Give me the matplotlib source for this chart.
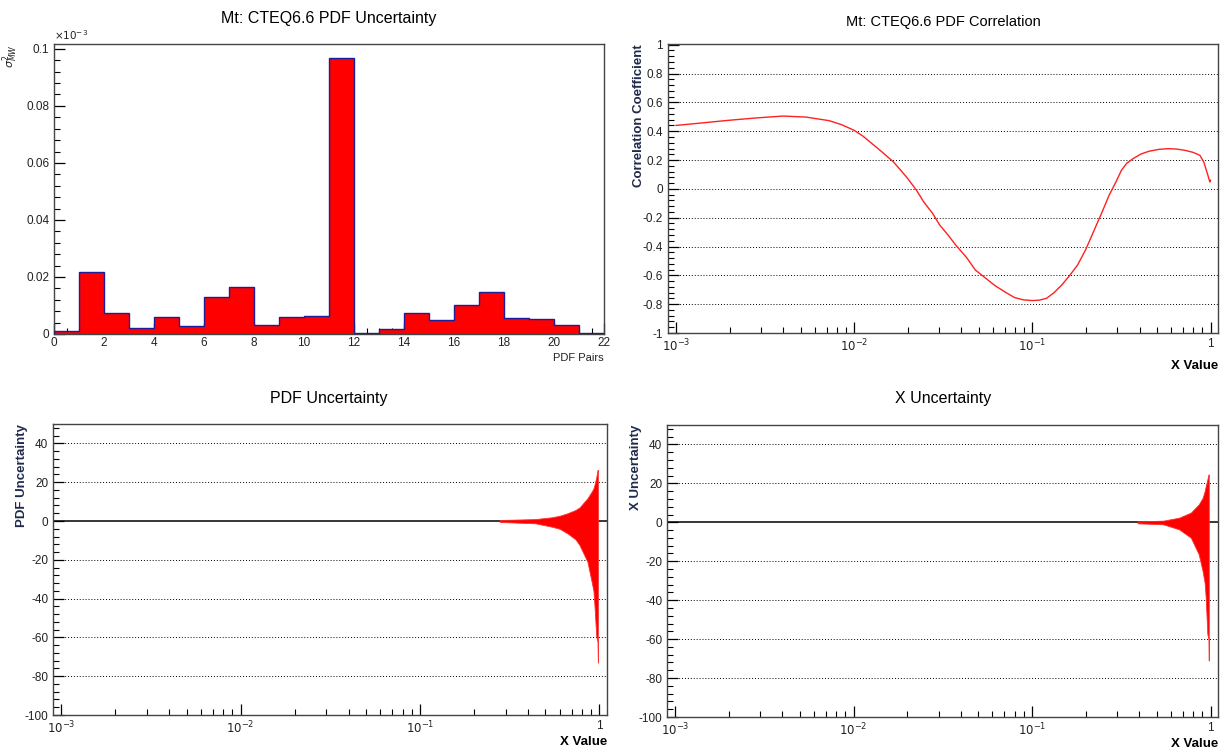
import matplotlib
matplotlib.use("Agg")
import matplotlib.pyplot as plt
import numpy as np
from matplotlib.ticker import (MultipleLocator, FixedLocator, FixedFormatter, FuncFormatter,
                               LogLocator, NullFormatter)

plt.rcParams['font.family'] = ['Liberation Sans', 'DejaVu Sans']
plt.rcParams['axes.unicode_minus'] = False

# --- data ---
pair_edges = list(range(0, 23))
pair_sigma = [0.0012, 0.0218, 0.0074, 0.0021, 0.0061, 0.0029, 0.0130, 0.0166, 0.0033, 0.0060, 0.0064,
              0.0968, 0.0002, 0.0018, 0.0074, 0.0048, 0.0101, 0.0148, 0.0056, 0.0052, 0.0030, 0.0002]

corr_logx = [-3.0, -2.85, -2.71, -2.55, -2.40, -2.27, -2.14, -2.07, -2.0, -1.95, -1.90, -1.84, -1.78,
             -1.74, -1.70, -1.65, -1.61, -1.56, -1.52, -1.47, -1.43, -1.37, -1.32, -1.26, -1.21, -1.15,
             -1.10, -1.05, -1.0, -0.96, -0.92, -0.88, -0.835, -0.79, -0.746, -0.70, -0.657, -0.61,
             -0.569, -0.53, -0.50, -0.47, -0.434, -0.39, -0.345, -0.29, -0.235, -0.19, -0.146, -0.10,
             -0.06, -0.038, -0.015, -0.004, 0.0]
corr_val = [0.44, 0.458, 0.475, 0.492, 0.505, 0.498, 0.473, 0.445, 0.406, 0.365, 0.314, 0.252, 0.187,
            0.131, 0.072, -0.01, -0.09, -0.17, -0.251, -0.325, -0.39, -0.475, -0.563, -0.622, -0.671,
            -0.718, -0.754, -0.770, -0.775, -0.772, -0.759, -0.722, -0.667, -0.600, -0.528, -0.42,
            -0.298, -0.165, -0.044, 0.05, 0.129, 0.178, 0.21, 0.242, 0.261, 0.274, 0.279, 0.276,
            0.268, 0.254, 0.233, 0.187, 0.095, 0.048, 0.06]

pdf_x = [0.278, 0.44, 0.541, 0.60, 0.664, 0.736, 0.774, 0.857, 0.903, 0.926, 0.94, 0.96, 0.975, 0.98]
pdf_up = [0.5, 1.0, 1.9, 2.7, 4.0, 5.7, 7.0, 11.7, 15.0, 16.8, 19.0, 22.5, 26.3, 26.3]
pdf_lo = [-0.5, -1.2, -2.9, -4.0, -6.4, -9.5, -12.4, -21.0, -31.0, -36.0, -45.0, -59.6, -62.0, -73.0]

xun_x = [0.39, 0.543, 0.667, 0.776, 0.859, 0.903, 0.927, 0.94, 0.96, 0.975, 0.978]
xun_up = [0.5, 0.85, 2.4, 5.0, 9.2, 12.5, 16.0, 18.5, 22.0, 24.6, 24.6]
xun_lo = [-0.5, -1.0, -3.6, -7.9, -16.4, -25.0, -31.0, -38.6, -57.4, -60.0, -71.0]

W, H = 1225, 751
fig = plt.figure(figsize=(W / 100, H / 100), dpi=100)


def axes_px(left, top, right, bottom):
    return fig.add_axes([left / W, 1 - bottom / H, (right - left) / W, (bottom - top) / H])


frame_col = '#444444'
label_col = '#1f2a4d'
plain_fmt = FuncFormatter(lambda v, p: '%g' % round(v, 6))


def root_style(ax):
    for s in ax.spines.values():
        s.set_color(frame_col)
        s.set_linewidth(1.0)
    ax.tick_params(which='both', direction='in', top=False, right=False, labelsize=8.5, colors='black',
                   labelcolor='#222222')
    ax.tick_params(which='major', length=8, width=0.9)
    ax.tick_params(which='minor', length=4, width=0.8)


def log_xaxis(ax):
    ax.set_xscale('log')
    ax.set_xlim(10 ** -3.045, 10 ** 0.042)
    ax.xaxis.set_major_locator(FixedLocator([1e-3, 1e-2, 1e-1, 1]))
    ax.xaxis.set_major_formatter(FixedFormatter([r'$10^{-3}$', r'$10^{-2}$', r'$10^{-1}$', '1']))
    ax.xaxis.set_minor_locator(LogLocator(base=10, subs=np.arange(2, 10), numticks=20))
    ax.xaxis.set_minor_formatter(NullFormatter())
    ax.set_xlabel('X Value', fontweight='bold', fontsize=9.5, loc='right')


def y_grid(ax, values):
    for v in values:
        ax.axhline(v, color='black', linestyle=(0, (1, 2)), linewidth=0.7, zorder=0.5)


# --- top left: histogram ---
ax1 = axes_px(54, 44, 604, 334)
root_style(ax1)
ax1.stairs(pair_sigma, pair_edges, fill=True, color='#ff0000', zorder=2)
ax1.stairs(pair_sigma, pair_edges, baseline=0, color='#1c1c9c', linewidth=1.0, zorder=3)
ax1.set_xlim(0, 22)
ax1.set_ylim(0, 0.1017)
ax1.xaxis.set_major_locator(MultipleLocator(2))
ax1.xaxis.set_minor_locator(MultipleLocator(0.5))
ax1.yaxis.set_major_locator(MultipleLocator(0.02))
ax1.yaxis.set_minor_locator(MultipleLocator(0.004))
ax1.yaxis.set_major_formatter(plain_fmt)
ax1.xaxis.set_major_formatter(plain_fmt)
ax1.tick_params(axis='x', pad=2)
ax1.set_xlabel('PDF Pairs', fontsize=8, loc='right', color='#222222')
ax1.xaxis.set_label_coords(1.0, -0.065)
ax1.xaxis.label.set_va('top')
ax1.set_ylabel(r'$\sigma^{2}_{MW}$', fontsize=8, loc='top', color='#222222')
ax1.yaxis.set_label_coords(-0.062, 1.0)
ax1.text(0.0, 1.008, r'$\times10^{-3}$', transform=ax1.transAxes, fontsize=7.5, va='bottom', ha='left',
         color='#222222')
fig.text(329 / W, 1 - 18 / H, 'Mt: CTEQ6.6 PDF Uncertainty', ha='center', va='center', fontsize=11.5)

# --- top right: correlation ---
ax2 = axes_px(668, 44, 1218, 333)
root_style(ax2)
log_xaxis(ax2)
ax2.set_ylim(-1, 1.005)
ax2.yaxis.set_major_locator(MultipleLocator(0.2))
ax2.yaxis.set_minor_locator(MultipleLocator(0.04))
ax2.yaxis.set_major_formatter(plain_fmt)
y_grid(ax2, [0.8, 0.6, 0.4, 0.2, 0.0, -0.2, -0.4, -0.6, -0.8])
ax2.plot(10 ** np.array(corr_logx), corr_val, color='#ff2020', linewidth=1.0, zorder=3)
ax2.set_ylabel('Correlation Coefficient', fontweight='bold', fontsize=9.5, loc='top', color=label_col)
ax2.yaxis.set_label_coords(-0.042, 1.0)
ax2.xaxis.set_label_coords(1.0, -0.092)
ax2.xaxis.label.set_va('top')
fig.text(943 / W, 1 - 22 / H, 'Mt: CTEQ6.6 PDF Correlation', ha='center', va='center', fontsize=10.5)

# --- bottom panels: uncertainty bands ---
panels = [
    (axes_px(53, 424, 607, 715), pdf_x, pdf_up, pdf_lo, 'PDF Uncertainty', 'PDF Uncertainty', 329),
    (axes_px(667, 425, 1218, 717), xun_x, xun_up, xun_lo, 'X Uncertainty', 'X Uncertainty', 943),
]
for ax, xs, up, lo, ylab, title, cx in panels:
    root_style(ax)
    log_xaxis(ax)
    ax.set_ylim(-100, 50)
    ax.yaxis.set_major_locator(MultipleLocator(20))
    ax.yaxis.set_minor_locator(MultipleLocator(4))
    ax.yaxis.set_major_formatter(plain_fmt)
    y_grid(ax, [40, 20, -20, -40, -60, -80])
    ax.axhline(0, color='black', linewidth=1.1, zorder=1)
    ax.fill_between(xs, lo, up, color='#ff0000', linewidth=0.6, edgecolor='#ff3030', zorder=2)
    ax.set_ylabel(ylab, fontweight='bold', fontsize=9.5, loc='top', color=label_col)
    ax.yaxis.set_label_coords(-0.045, 1.0)
    ax.xaxis.set_label_coords(1.0, -0.072)
    ax.xaxis.label.set_va('top')
    top_px = (1 - ax.get_position().y1) * H
    fig.text(cx / W, 1 - (top_px - 26) / H, title, ha='center', va='center', fontsize=11.5)

fig.savefig('out.png', dpi=100)
